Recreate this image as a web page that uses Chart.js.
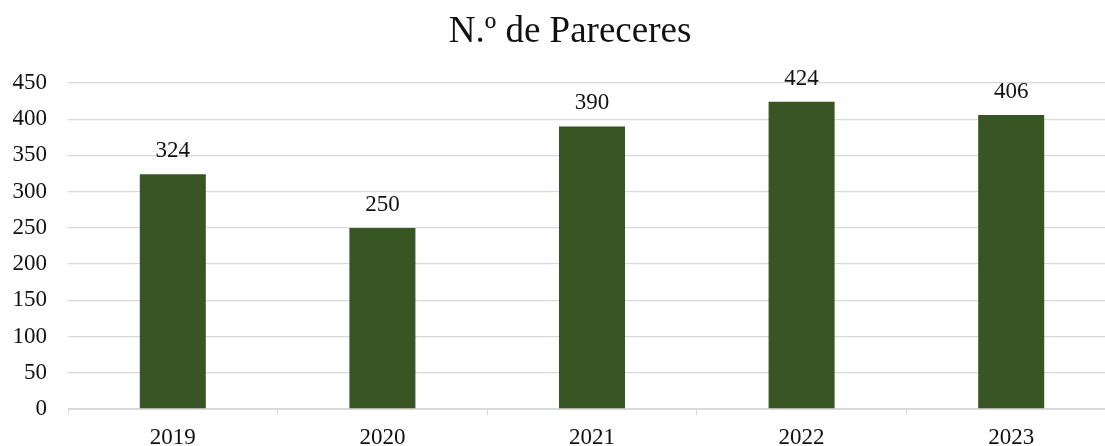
<!DOCTYPE html>
<html>
<head>
<meta charset="utf-8">
<script src="https://cdn.jsdelivr.net/npm/chart.js@4"></script>
<style>
  html, body { margin: 0; padding: 0; background: #fff; overflow: hidden; }
  #wrap { width: 1140px; height: 446px; }
</style>
</head>
<body>
<div id="wrap"><canvas id="pareceresChart"></canvas></div>
<script>
const years = ['2019', '2020', '2021', '2022', '2023'];
const pareceres = [324, 250, 390, 424, 406];
const yTicks = [0, 50, 100, 150, 200, 250, 300, 350, 400, 450];
const chartTitle = 'N.º de Pareceres';

const serif = '"Liberation Serif", "Times New Roman", serif';

// labels over each bar
const barLabels = {
  id: 'barLabels',
  afterDatasetsDraw(chart) {
    const ctx = chart.ctx;
    const meta = chart.getDatasetMeta(0);
    ctx.save();
    ctx.font = '23px ' + serif;
    ctx.fillStyle = '#111';
    ctx.textAlign = 'center';
    ctx.textBaseline = 'alphabetic';
    meta.data.forEach((bar, i) => {
      ctx.fillText(String(pareceres[i]), bar.x, bar.y - 17);
    });
    ctx.restore();
  }
};

// title, centred a bit left of the plot like the excel original
const titleText = {
  id: 'titleText',
  afterDraw(chart) {
    const ctx = chart.ctx;
    ctx.save();
    ctx.font = '37px ' + serif;
    ctx.fillStyle = '#111';
    ctx.textAlign = 'center';
    ctx.textBaseline = 'alphabetic';
    ctx.fillText(chartTitle, chart.width / 2, 42);
    ctx.restore();
  }
};

const ctx = document.getElementById('pareceresChart').getContext('2d');
new Chart(ctx, {
  type: 'bar',
  data: {
    labels: years,
    datasets: [{
      data: pareceres,
      backgroundColor: '#375623',
      categoryPercentage: 1,
      barPercentage: 0.315
    }]
  },
  options: {
    responsive: true,
    maintainAspectRatio: false,
    animation: false,
    layout: { padding: { left: 0, right: 24, top: 83, bottom: 0 } },
    plugins: {
      legend: { display: false },
      tooltip: { enabled: false },
      title: { display: false }
    },
    scales: {
      x: {
        grid: {
          offset: true,
          drawOnChartArea: false,
          drawTicks: true,
          tickLength: 6,
          color: '#d9d9d9'
        },
        border: { display: true, color: '#d9d9d9', width: 1 },
        ticks: {
          color: '#111',
          font: { family: serif, size: 23 },
          padding: 9,
          maxRotation: 0
        },
        afterFit(scale) { scale.height = 37; }
      },
      y: {
        min: 0,
        max: 450,
        afterBuildTicks(scale) { scale.ticks = yTicks.map(v => ({ value: v })); },
        grid: { color: '#d9d9d9', lineWidth: 1.3, drawTicks: false },
        border: { display: false },
        ticks: {
          color: '#111',
          font: { family: serif, size: 23 },
          padding: 21
        },
        afterFit(scale) { scale.width = 68; }
      }
    }
  },
  plugins: [barLabels, titleText]
});
</script>
</body>
</html>
